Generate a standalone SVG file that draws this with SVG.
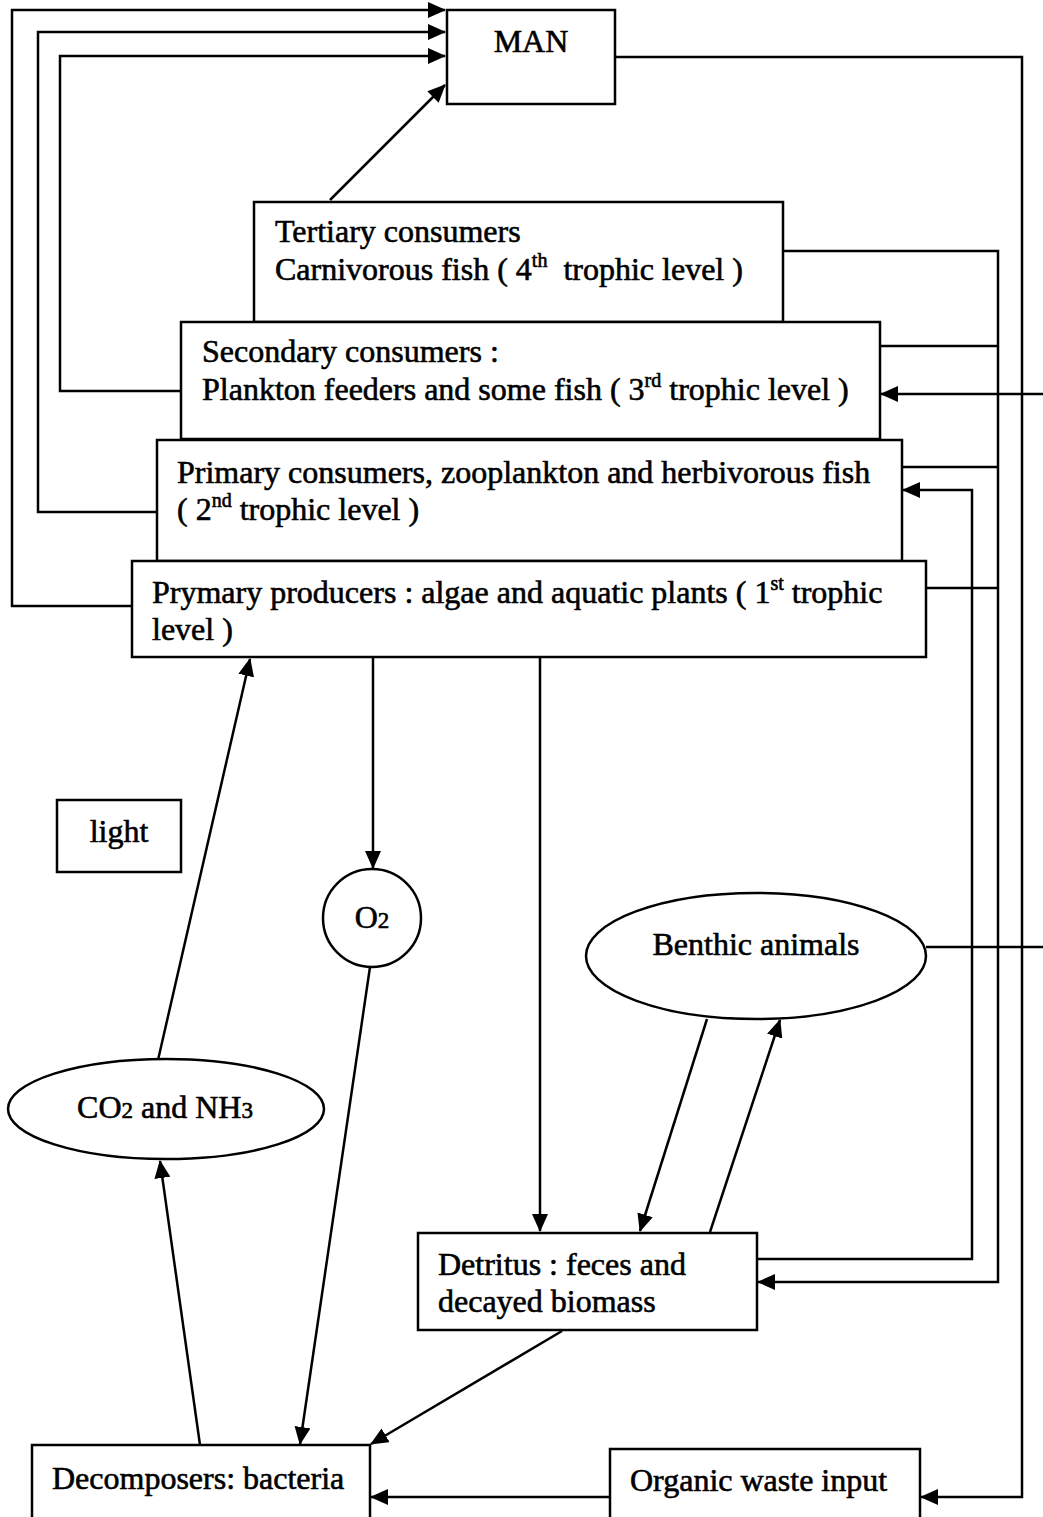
<svg xmlns="http://www.w3.org/2000/svg" width="1043" height="1517" viewBox="0 0 1043 1517">
<style>
.box{fill:#fff;stroke:#000;stroke-width:2.5}
.t{font-family:"Liberation Serif","Times New Roman",serif;font-size:32px;fill:#000;stroke:#000;stroke-width:0.6}
.sup{font-size:20px}
.sub{font-size:23px}
.c{fill:none;stroke:#000;stroke-width:2.5}
</style>
<defs>
<marker id="ah" markerUnits="userSpaceOnUse" markerWidth="18" markerHeight="16" refX="17" refY="8" orient="auto">
<path d="M0,0 L18,8 L0,16 z" fill="#000"/>
</marker>
</defs>
<rect width="1043" height="1517" fill="#fff"/>
<g id="connectors">
<path class="c" d="M131,606 H12 V10 H445" marker-end="url(#ah)"/>
<path class="c" d="M157,512 H38 V32 H445" marker-end="url(#ah)"/>
<path class="c" d="M181,391 H60 V56 H445" marker-end="url(#ah)"/>
<path class="c" d="M330,200 L445,85" marker-end="url(#ah)"/>
<path class="c" d="M615,57 H1022 V1497 H921" marker-end="url(#ah)"/>
<path class="c" d="M783,251 H998 V1282 H758" marker-end="url(#ah)"/>
<path class="c" d="M880,346 H998 M902,467 H998 M926,588 H998"/>
<path class="c" d="M757,1259 H972 V490 H903" marker-end="url(#ah)"/>
<path class="c" d="M926,947 H1048 V394 H881" marker-end="url(#ah)"/>
<path class="c" d="M373,657 V868" marker-end="url(#ah)"/>
<path class="c" d="M540,657 V1231" marker-end="url(#ah)"/>
<path class="c" d="M158,1060 L250,659" marker-end="url(#ah)"/>
<path class="c" d="M370,967 L300,1444" marker-end="url(#ah)"/>
<path class="c" d="M200,1445 L160,1161" marker-end="url(#ah)"/>
<path class="c" d="M562,1331 L371,1444" marker-end="url(#ah)"/>
<path class="c" d="M707,1019 L640,1231" marker-end="url(#ah)"/>
<path class="c" d="M710,1232 L780,1020" marker-end="url(#ah)"/>
<path class="c" d="M610,1497 L371,1497" marker-end="url(#ah)"/>
</g>
<g id="man">
<rect class="box" x="447" y="10" width="168" height="94"/>
<text class="t" x="531" y="52" text-anchor="middle">MAN</text>
</g>
<g id="tertiary">
<rect class="box" x="254" y="202" width="529" height="120"/>
<text class="t" x="275" y="242">Tertiary consumers</text>
<text class="t" x="275" y="280" style="white-space:pre">Carnivorous fish ( 4<tspan class="sup" dy="-13">th</tspan><tspan dy="13">  trophic level )</tspan></text>
</g>
<g id="secondary">
<rect class="box" x="181" y="322" width="699" height="117"/>
<text class="t" x="202" y="362">Secondary consumers :</text>
<text class="t" x="202" y="400">Plankton feeders and some fish ( 3<tspan class="sup" dy="-13">rd</tspan><tspan dy="13"> trophic level )</tspan></text>
</g>
<g id="primary">
<rect class="box" x="157" y="440" width="745" height="121"/>
<text class="t" x="177" y="483">Primary consumers, zooplankton and herbivorous fish</text>
<text class="t" x="177" y="520">( 2<tspan class="sup" dy="-13">nd</tspan><tspan dy="13"> trophic level )</tspan></text>
</g>
<g id="producers">
<rect class="box" x="132" y="561" width="794" height="96"/>
<text class="t" x="152" y="603">Prymary producers : algae and aquatic plants ( 1<tspan class="sup" dy="-13">st</tspan><tspan dy="13"> trophic</tspan></text>
<text class="t" x="152" y="640">level )</text>
</g>
<g id="light">
<rect class="box" x="57" y="800" width="124" height="72"/>
<text class="t" x="119" y="842" text-anchor="middle">light</text>
</g>
<g id="o2">
<circle class="box" cx="372" cy="918" r="49"/>
<text class="t" x="372" y="928" text-anchor="middle">O<tspan class="sub">2</tspan></text>
</g>
<g id="benthic">
<ellipse class="box" cx="756" cy="956" rx="170" ry="63"/>
<text class="t" x="756" y="955" text-anchor="middle">Benthic animals</text>
</g>
<g id="co2nh3">
<ellipse class="box" cx="166" cy="1109" rx="158" ry="50"/>
<text class="t" x="165" y="1118" text-anchor="middle">CO<tspan class="sub">2</tspan> and NH<tspan class="sub">3</tspan></text>
</g>
<g id="detritus">
<rect class="box" x="418" y="1233" width="339" height="97"/>
<text class="t" x="438" y="1275">Detritus : feces and</text>
<text class="t" x="438" y="1312">decayed biomass</text>
</g>
<g id="decomposers">
<rect class="box" x="32" y="1445" width="338" height="80"/>
<text class="t" x="52" y="1489">Decomposers: bacteria</text>
</g>
<g id="organic">
<rect class="box" x="610" y="1449" width="310" height="76"/>
<text class="t" x="630" y="1491">Organic waste input</text>
</g>
</svg>
